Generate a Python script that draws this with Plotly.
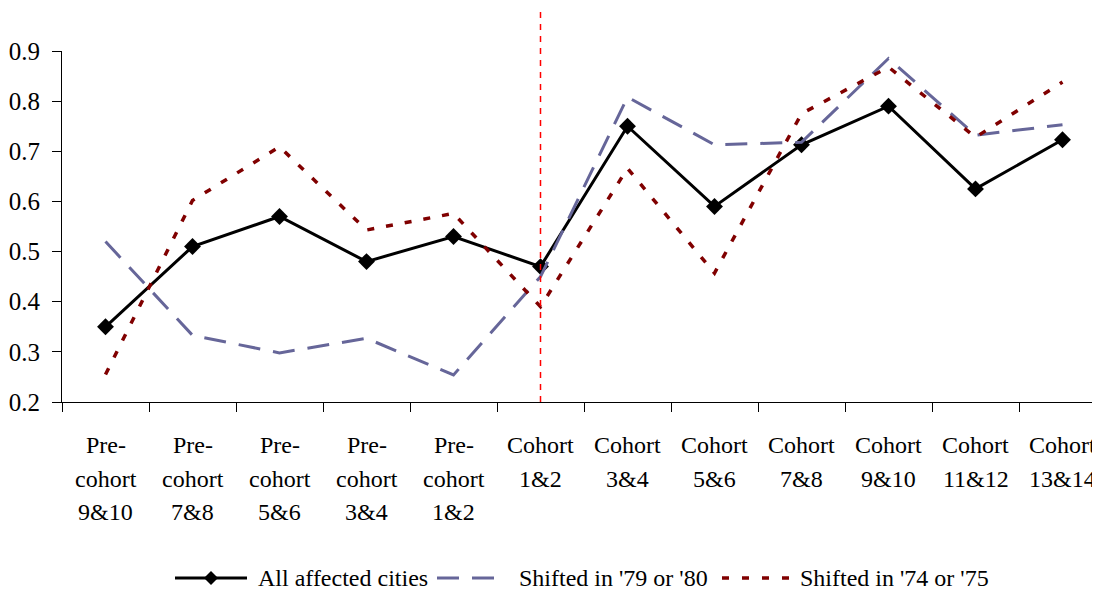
import plotly.graph_objects as go

# ---- data ----
categories = [
    "Pre-<br>cohort<br>9&10", "Pre-<br>cohort<br>7&8", "Pre-<br>cohort<br>5&6",
    "Pre-<br>cohort<br>3&4", "Pre-<br>cohort<br>1&2", "Cohort<br>1&2",
    "Cohort<br>3&4", "Cohort<br>5&6", "Cohort<br>7&8", "Cohort<br>9&10",
    "Cohort<br>11&12", "Cohort<br>13&14",
]
all_affected = [0.35, 0.51, 0.57, 0.48, 0.53, 0.47, 0.75, 0.59, 0.713, 0.79, 0.625, 0.723]
shifted_79_80 = [0.52, 0.333, 0.298, 0.327, 0.254, 0.45, 0.808, 0.713, 0.718, 0.885, 0.732, 0.753]
shifted_74_75 = [0.255, 0.602, 0.709, 0.543, 0.576, 0.39, 0.666, 0.457, 0.775, 0.868, 0.728, 0.838]
series_names = ["All affected cities", "Shifted in '79 or '80", "Shifted in '74 or '75"]
y_ticks = [0.2, 0.3, 0.4, 0.5, 0.6, 0.7, 0.8, 0.9]
divider_index = 5

FONT = "Liberation Serif"
BLUE = "#666699"
DARKRED = "#800000"

# geometry (figure pixels); page body adds an 8px offset
OFF = 8
FW, FH = 1092, 582
L, T, B = 54, 43, 188
PW = FW - L
PH = FH - T - B
STEP = 87.0


def px(x):  # screen x -> paper
    return (x - OFF - L) / PW


def py(y):  # screen y -> paper
    return (FH - B - (y - OFF)) / PH


fig = go.Figure()
fig.add_trace(go.Scatter(
    x=list(range(len(categories))), y=all_affected, name=series_names[0], mode="lines+markers",
    line=dict(color="black", width=3),
    marker=dict(symbol="diamond", size=13, color="black"),
    cliponaxis=False,
))
fig.add_trace(go.Scatter(
    x=list(range(len(categories))), y=shifted_79_80, name=series_names[1], mode="lines",
    line=dict(color=BLUE, width=3, dash="22px,13px"),
    cliponaxis=False,
))
fig.add_trace(go.Scatter(
    x=list(range(len(categories))), y=shifted_74_75, name=series_names[2], mode="lines",
    line=dict(color=DARKRED, width=3.5, dash="7px,12px"),
    cliponaxis=False,
))

shapes = [
    dict(type="line", xref="x", yref="paper", x0=divider_index, x1=divider_index,
         y0=0, y1=py(10), line=dict(color="#FF0000", width=1.5, dash="6px,6px")),
]

# custom legend
LY = 578
shapes += [
    dict(type="line", xref="paper", yref="paper", x0=px(175), x1=px(247), y0=py(LY), y1=py(LY),
         line=dict(color="black", width=3)),
    dict(type="path", xref="paper", yref="paper",
         path=f"M {px(211-7)},{py(LY)} L {px(211)},{py(LY-7)} L {px(211+7)},{py(LY)} L {px(211)},{py(LY+7)} Z",
         fillcolor="black", line=dict(color="black", width=0)),
    dict(type="line", xref="paper", yref="paper", x0=px(437), x1=px(505), y0=py(LY), y1=py(LY),
         line=dict(color=BLUE, width=3, dash="22px,13px")),
    dict(type="line", xref="paper", yref="paper", x0=px(722), x1=px(792), y0=py(LY), y1=py(LY),
         line=dict(color=DARKRED, width=3.5, dash="7px,13px")),
]
annotations = []
for name, xl in zip(series_names, [256, 517, 798]):
    annotations.append(dict(
        text=name, xref="paper", yref="paper", x=px(xl), y=py(LY),
        xanchor="left", yanchor="middle", showarrow=False,
        font=dict(family=FONT, size=24, color="black"),
    ))

# category labels, one annotation per line
for i, lab in enumerate(categories):
    for j, part in enumerate(lab.split("<br>")):
        annotations.append(dict(
            text=part, xref="x", yref="paper", x=i, y=py(445 + 33.5 * j),
            xanchor="center", yanchor="middle", showarrow=False,
            font=dict(family=FONT, size=24, color="black"),
        ))

fig.update_layout(
    width=FW, height=FH,
    margin=dict(l=L, r=0, t=T, b=B, pad=0),
    paper_bgcolor="white", plot_bgcolor="white",
    showlegend=False,
    font=dict(family=FONT, size=24, color="black"),
    shapes=shapes,
    annotations=annotations,
    xaxis=dict(
        range=[-0.5, -0.5 + PW / STEP],
        tickvals=[k - 0.5 for k in range(len(categories) + 1)],
        showticklabels=False,
        ticks="outside", ticklen=9, tickcolor="black", tickwidth=1,
        showline=True, linecolor="black", linewidth=1,
        showgrid=False, zeroline=False,
    ),
    yaxis=dict(
        range=[0.2, 0.9],
        tickvals=y_ticks,
        ticktext=[f"{v:.1f}" for v in y_ticks],
        ticks="outside", ticklen=9, tickcolor="black", tickwidth=1,
        showline=True, linecolor="black", linewidth=1,
        showgrid=False, zeroline=False,
        tickfont=dict(family=FONT, size=25, color="black"),
        ticklabelstandoff=7,
    ),
)

fig.write_html("out.html")
